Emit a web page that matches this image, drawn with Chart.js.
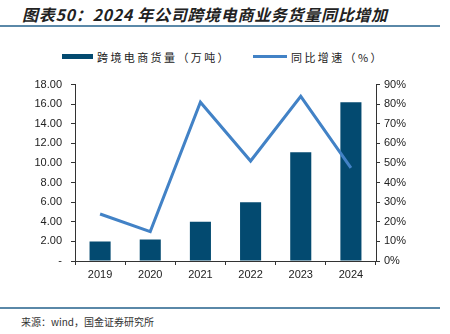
<!DOCTYPE html>
<html>
<head>
<meta charset="utf-8">
<script src="https://cdn.jsdelivr.net/npm/chart.js@4.4.1/dist/chart.umd.min.js"></script>
<style>
  html, body { margin: 0; padding: 0; background: #fff; }
  body { width: 450px; height: 334px; position: relative; overflow: hidden; font-family: "Noto Sans CJK SC", sans-serif; }
  #titulo { position: absolute; left: 22px; top: 2px; font-size: 16px; font-weight: bold; font-style: italic; color: #222; letter-spacing: 0.7px; white-space: nowrap; }
  .regua { position: absolute; left: 0; width: 440px; height: 2px; background: #5a88a8; }
  #legenda { position: absolute; top: 49px; left: 62px; height: 16px; font-size: 11px; color: #222; letter-spacing: 2.4px; white-space: nowrap; }
  #legenda span.item { position: absolute; top: 0; line-height: 16px; }
  #legenda i { position: absolute; top: 6px; display: block; }
  #caixa { position: absolute; left: 0; top: 69px; width: 450px; height: 221px; }
  #fonte { position: absolute; left: 21px; top: 314px; font-size: 10px; color: #333; white-space: nowrap; }
</style>
</head>
<body>
<div id="titulo">图表50：2024 年公司跨境电商业务货量同比增加</div>
<div class="regua" style="top:25px"></div>
<div id="legenda"></div>
<div id="caixa"><canvas id="grafico"></canvas></div>
<div class="regua" style="top:307px;height:1.5px"></div>
<div id="fonte">来源：wind，国金证券研究所</div>
<script>
const anos = ['2019', '2020', '2021', '2022', '2023', '2024'];
const volume = [2.0, 2.2, 4.0, 6.0, 11.1, 16.2];
const crescimento = [24, 15, 81, 51, 84, 47.5];
const rotuloVolume = '跨境电商货量（万吨）';
const rotuloCrescimento = '同比增速（%）';

const COR_BARRA = '#034a70';
const COR_LINHA = '#4282c6';
const FONTE_EIXO = { family: '"Liberation Sans", Arial, sans-serif', size: 11 };

// legenda em HTML (texto espaçado como no original)
const legenda = document.getElementById('legenda');
legenda.innerHTML = `
  <i style="left:0;width:31px;height:5px;background:${COR_BARRA};top:5px"></i>
  <span class="item" style="left:35px">${rotuloVolume}</span>
  <i style="left:191px;width:34px;height:3px;background:${COR_LINHA}"></i>
  <span class="item" style="left:229px">${rotuloCrescimento}</span>
`;

const ctx = document.getElementById('grafico').getContext('2d');
const chart = new Chart(ctx, {
    data: {
        labels: anos,
        datasets: [{
            type: 'line',
            label: rotuloCrescimento,
            data: crescimento,
            yAxisID: 'yDir',
            borderColor: COR_LINHA,
            borderWidth: 3,
            pointRadius: 0,
            tension: 0,
            order: 0
        }, {
            type: 'bar',
            label: rotuloVolume,
            data: volume,
            yAxisID: 'yEsq',
            backgroundColor: COR_BARRA,
            barPercentage: 0.42,
            categoryPercentage: 1,
            order: 1
        }]
    },
    options: {
        responsive: true,
        maintainAspectRatio: false,
        animation: false,
        layout: { padding: { top: 4, left: 0, right: 0, bottom: 0 } },
        plugins: { legend: { display: false }, tooltip: { enabled: false } },
        scales: {
            x: {
                offset: true,
                grid: { display: true, drawOnChartArea: false, offset: true, tickLength: 4, color: '#333' },
                border: { color: '#333', width: 1 },
                ticks: { color: '#222', font: FONTE_EIXO, padding: 3 },
                afterFit: function(s) { s.height = 29; }
            },
            yEsq: {
                position: 'left',
                min: 0,
                max: 18,
                grid: { drawOnChartArea: false, tickLength: 4, color: '#333' },
                border: { color: '#333', width: 1 },
                ticks: {
                    stepSize: 2,
                    color: '#222',
                    font: FONTE_EIXO,
                    padding: 9,
                    callback: function(v) { return v === 0 ? '-' : v.toFixed(2); }
                },
                afterFit: function(s) { s.width = 75; }
            },
            yDir: {
                position: 'right',
                min: 0,
                max: 90,
                grid: { drawOnChartArea: false, tickLength: 4, color: '#333' },
                border: { color: '#333', width: 1 },
                ticks: {
                    stepSize: 10,
                    color: '#222',
                    font: FONTE_EIXO,
                    padding: 4,
                    callback: function(v) { return v + '%'; }
                },
                afterFit: function(s) { s.width = 74; }
            }
        }
    }
});
</script>
</body>
</html>
